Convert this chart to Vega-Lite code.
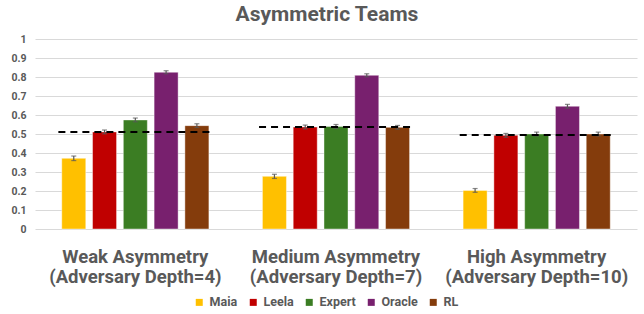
{
  "$schema": "https://vega.github.io/schema/vega-lite/v6.json",
  "autosize": "none",
  "width": 602,
  "height": 190,
  "padding": {"left": 35, "top": 39, "right": 7, "bottom": 85},
  "background": "white",
  "config": {"font": "Roboto", "view": {"stroke": null}},
  "title": {"text": "Asymmetric Teams", "fontSize": 21, "fontWeight": "bold", "color": "#595959", "anchor": "middle", "dx": -9, "offset": 9},
  "datasets": {
    "bars": [
      {"group": "Weak Asymmetry|(Adversary Depth=4)", "team": "Maia", "value": 0.372, "lo": 0.36, "hi": 0.384},
      {"group": "Weak Asymmetry|(Adversary Depth=4)", "team": "Leela", "value": 0.511, "lo": 0.501, "hi": 0.521},
      {"group": "Weak Asymmetry|(Adversary Depth=4)", "team": "Expert", "value": 0.574, "lo": 0.564, "hi": 0.584},
      {"group": "Weak Asymmetry|(Adversary Depth=4)", "team": "Oracle", "value": 0.825, "lo": 0.817, "hi": 0.833},
      {"group": "Weak Asymmetry|(Adversary Depth=4)", "team": "RL", "value": 0.544, "lo": 0.534, "hi": 0.554},
      {"group": "Medium Asymmetry|(Adversary Depth=7)", "team": "Maia", "value": 0.277, "lo": 0.266, "hi": 0.288},
      {"group": "Medium Asymmetry|(Adversary Depth=7)", "team": "Leela", "value": 0.537, "lo": 0.527, "hi": 0.547},
      {"group": "Medium Asymmetry|(Adversary Depth=7)", "team": "Expert", "value": 0.54, "lo": 0.53, "hi": 0.55},
      {"group": "Medium Asymmetry|(Adversary Depth=7)", "team": "Oracle", "value": 0.809, "lo": 0.801, "hi": 0.817},
      {"group": "Medium Asymmetry|(Adversary Depth=7)", "team": "RL", "value": 0.535, "lo": 0.525, "hi": 0.545},
      {"group": "High Asymmetry|(Adversary Depth=10)", "team": "Maia", "value": 0.203, "lo": 0.193, "hi": 0.213},
      {"group": "High Asymmetry|(Adversary Depth=10)", "team": "Leela", "value": 0.493, "lo": 0.483, "hi": 0.503},
      {"group": "High Asymmetry|(Adversary Depth=10)", "team": "Expert", "value": 0.5, "lo": 0.49, "hi": 0.51},
      {"group": "High Asymmetry|(Adversary Depth=10)", "team": "Oracle", "value": 0.646, "lo": 0.636, "hi": 0.656},
      {"group": "High Asymmetry|(Adversary Depth=10)", "team": "RL", "value": 0.5, "lo": 0.49, "hi": 0.51}
    ],
    "baselines": [
      {"group": "Weak Asymmetry|(Adversary Depth=4)", "baseline": 0.511},
      {"group": "Medium Asymmetry|(Adversary Depth=7)", "baseline": 0.537},
      {"group": "High Asymmetry|(Adversary Depth=10)", "baseline": 0.495}
    ]
  },
  "encoding": {
    "x": {
      "field": "group", "type": "nominal", "sort": null,
      "scale": {"paddingInner": 0.233, "paddingOuter": 0.1165},
      "axis": {"title": null, "labelExpr": "split(datum.label, '|')", "labelAngle": 0, "domain": false, "ticks": false, "labelLimit": 400,
        "labelFontSize": 18.5, "labelFontWeight": "bold", "labelColor": "#595959", "labelPadding": 18, "labelLineHeight": 20}
    },
    "y": {"field": "value", "type": "quantitative", "scale": {"domain": [0, 1], "nice": false},
      "axis": {"title": null, "values": [0, 0.1, 0.2, 0.3, 0.4, 0.5, 0.6, 0.7, 0.8, 0.9, 1], "format": ".1~f", "labelOverlap": false,
        "domain": false, "ticks": false, "gridColor": "#d9d9d9", "gridWidth": 1,
        "labelFontSize": 10.5, "labelFontWeight": "bold", "labelColor": "#595959", "labelPadding": 9}}
  },
  "layer": [
    {
      "data": {"name": "bars"},
      "mark": {"type": "bar", "stroke": "#ffffff", "strokeWidth": 0.6, "strokeOpacity": 0.7},
      "encoding": {
        "xOffset": {"field": "team", "type": "nominal", "sort": ["Maia", "Leela", "Expert", "Oracle", "RL"], "scale": {"paddingInner": 0.22, "paddingOuter": 0.11}},
        "color": {"field": "team", "type": "nominal",
          "scale": {"domain": ["Maia", "Leela", "Expert", "Oracle", "RL"], "range": ["#FFC000", "#C00000", "#3B7D23", "#78206E", "#843C0C"]},
          "legend": {"title": null, "orient": "none", "direction": "horizontal", "legendX": 158, "legendY": 257,
            "symbolType": "square", "symbolSize": 49, "symbolStrokeWidth": 0, "labelFontSize": 12.5, "labelFontWeight": "bold",
            "labelColor": "#595959", "columnPadding": 9, "labelOffset": 4}}
      }
    },
    {
      "data": {"name": "bars"},
      "mark": {"type": "rule", "color": "#595959", "strokeWidth": 1.2},
      "encoding": {
        "xOffset": {"field": "team", "type": "nominal", "sort": ["Maia", "Leela", "Expert", "Oracle", "RL"]},
        "y": {"field": "lo", "type": "quantitative"},
        "y2": {"field": "hi"}
      }
    },
    {
      "data": {"name": "bars"},
      "mark": {"type": "tick", "color": "#595959", "size": 5, "thickness": 1.2, "orient": "horizontal"},
      "encoding": {
        "xOffset": {"field": "team", "type": "nominal", "sort": ["Maia", "Leela", "Expert", "Oracle", "RL"]},
        "y": {"field": "lo", "type": "quantitative"}
      }
    },
    {
      "data": {"name": "bars"},
      "mark": {"type": "tick", "color": "#595959", "size": 5, "thickness": 1.2, "orient": "horizontal"},
      "encoding": {
        "xOffset": {"field": "team", "type": "nominal", "sort": ["Maia", "Leela", "Expert", "Oracle", "RL"]},
        "y": {"field": "hi", "type": "quantitative"}
      }
    },
    {
      "data": {"name": "baselines"},
      "mark": {"type": "rule", "color": "#000000", "strokeWidth": 2, "strokeDash": [7, 5]},
      "encoding": {
        "x": {"field": "group", "type": "nominal", "sort": null, "bandPosition": 0},
        "x2": {"field": "group", "bandPosition": 1},
        "y": {"field": "baseline", "type": "quantitative"}
      }
    }
  ]
}
